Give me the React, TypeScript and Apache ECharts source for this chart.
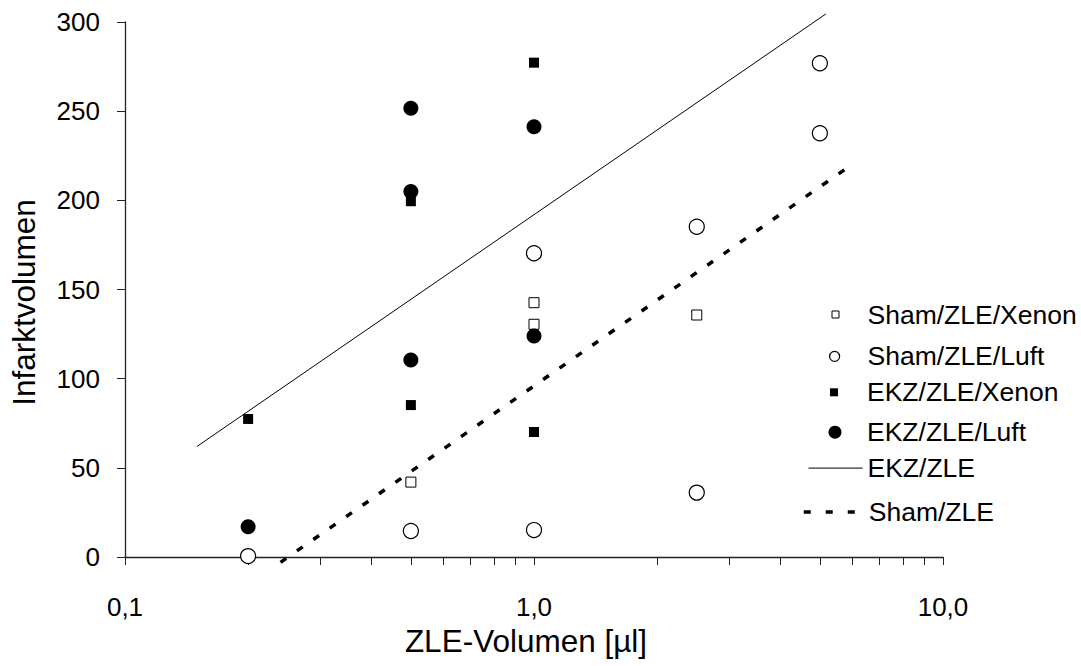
import React, { useEffect, useRef } from "react";
import * as echarts from "echarts";

// ---------- data ----------
const xTickValues = [0.1, 0.2, 0.3, 0.4, 0.5, 0.6, 0.7, 0.8, 0.9, 1, 2, 3, 4, 5, 6, 7, 8, 9, 10];
const xLabelValues = [0.1, 1, 10];

const shamXenon: number[][] = [[0.5, 42], [1.0, 142.6], [1.0, 130.5], [2.5, 135.7]];
const shamLuft: number[][] = [[0.2, 0.5], [0.5, 14.6], [1.0, 15.1], [1.0, 170.3], [2.5, 185.2], [2.5, 36.1], [5.0, 276.9], [5.0, 237.6]];
const ekzXenon: number[][] = [[0.2, 77.4], [0.5, 85.2], [0.5, 199.5], [1.0, 277.2], [1.0, 70.1]];
const ekzLuft: number[][] = [[0.2, 17], [0.5, 251.6], [0.5, 204.9], [0.5, 110.5], [1.0, 241.3], [1.0, 123.9]];
const ekzTrend: number[][] = [[0.15, 62], [5.17, 304.5]];
const shamTrend: number[][] = [[0.24, -3], [6.0, 220.2]];

const seriesNames = ["Sham/ZLE/Xenon", "Sham/ZLE/Luft", "EKZ/ZLE/Xenon", "EKZ/ZLE/Luft", "EKZ/ZLE", "Sham/ZLE"];
const xTitle = "ZLE-Volumen [µl]";
const yTitle = "Infarktvolumen";

// ---------- layout / style ----------
const FONT = "'Liberation Sans', Arial, Helvetica, sans-serif";
const AXIS_COLOR = "#222";
const TICK_FS = 26;
const LEG_FS = 26.5;
const TITLE_FS = 31.5;

function buildLegends() {
  const textX = 867;
  const row0 = 317.5;
  const step = 38.9;
  const LH = 30;
  const specs = [
    { w: 7, h: 7, cx: 835, d: 3, extra: { itemStyle: { borderWidth: 1, borderColor: "#000", color: "#fff", opacity: 1 } } },
    { w: 10, h: 10, cx: 834, d: 0, extra: { itemStyle: { borderWidth: 1.2, borderColor: "#000", color: "#fff", opacity: 1 } } },
    { w: 8, h: 8, cx: 834, d: 3, extra: { itemStyle: { borderWidth: 0, color: "#000", opacity: 1 } } },
    { w: 13, h: 13, cx: 835, d: 2, extra: { itemStyle: { borderWidth: 0, color: "#000", opacity: 1 } } },
    { w: 54, h: 12, cx: 835, d: 5, extra: { itemStyle: { opacity: 0 }, lineStyle: { width: 1, color: "#000" } } },
    { w: 51, h: 12, cx: 827.5, d: 0, extra: { itemStyle: { opacity: 0 }, lineStyle: { type: [7, 15], width: 3.5, color: "#000" } } },
  ];
  return seriesNames.map((name, i) => {
    const s = specs[i];
    const T = row0 + i * step;
    const left = s.cx - s.w / 2;
    const pl = textX - (left + s.w + 5);
    const top = T - LH / 2 - 2 * s.d;
    return {
      orient: "vertical",
      left,
      top,
      padding: 0,
      itemWidth: s.w,
      itemHeight: s.h,
      selectedMode: false,
      textStyle: {
        fontFamily: FONT,
        fontSize: LEG_FS,
        color: "#000",
        lineHeight: LH,
        padding: [2 * s.d, 0, 0, pl],
      },
      data: [{ name, ...s.extra }],
    };
  });
}

function buildOption() {
  const labelFmt = (v: number) => (Math.round(v * 10) / 10).toFixed(1).replace(".", ",");
  return {
    animation: false,
    backgroundColor: "#fff",
    grid: { left: 125, right: 138, top: 22, bottom: 109, containLabel: false, outerBoundsMode: "none" },
    xAxis: {
      type: "log",
      logBase: 10,
      min: 0.1,
      max: 10,
      axisLine: { show: true, onZero: false, lineStyle: { color: AXIS_COLOR, width: 1.3 } },
      axisTick: { show: true, inside: false, length: 8, customValues: xTickValues, lineStyle: { color: AXIS_COLOR, width: 1 } },
      minorTick: { show: false },
      axisLabel: {
        customValues: xLabelValues,
        formatter: labelFmt,
        margin: 37,
        fontSize: TICK_FS,
        fontFamily: FONT,
        color: "#000",
      },
      splitLine: { show: false },
    },
    yAxis: {
      type: "value",
      min: 0,
      max: 300,
      interval: 50,
      axisLine: { show: true, onZero: false, lineStyle: { color: AXIS_COLOR, width: 1.3 } },
      axisTick: { show: true, inside: false, length: 8, lineStyle: { color: AXIS_COLOR, width: 1 } },
      axisLabel: { margin: 25, fontSize: TICK_FS, fontFamily: FONT, color: "#000" },
      splitLine: { show: false },
    },
    legend: buildLegends(),
    graphic: [
      {
        type: "text",
        x: 526,
        y: 641,
        style: { text: xTitle, fontSize: TITLE_FS, fontFamily: FONT, fill: "#000", align: "center", verticalAlign: "middle" },
      },
      {
        type: "text",
        x: 24,
        y: 302.5,
        rotation: Math.PI / 2,
        style: { text: yTitle, fontSize: TITLE_FS, fontFamily: FONT, fill: "#000", align: "center", verticalAlign: "middle" },
      },
    ],
    series: [
      {
        name: seriesNames[0],
        type: "scatter",
        data: shamXenon,
        symbol: "rect",
        symbolSize: 10,
        itemStyle: { color: "#fff", borderColor: "#000", borderWidth: 1, opacity: 1 },
        z: 3,
      },
      {
        name: seriesNames[1],
        type: "scatter",
        data: shamLuft,
        symbol: "circle",
        symbolSize: 15,
        itemStyle: { color: "#fff", borderColor: "#000", borderWidth: 1.2, opacity: 1 },
        z: 3,
      },
      {
        name: seriesNames[2],
        type: "scatter",
        data: ekzXenon,
        symbol: "rect",
        symbolSize: 10,
        itemStyle: { color: "#000", opacity: 1 },
        z: 3,
      },
      {
        name: seriesNames[3],
        type: "scatter",
        data: ekzLuft,
        symbol: "circle",
        symbolSize: 15,
        itemStyle: { color: "#000", opacity: 1 },
        z: 3,
      },
      {
        name: seriesNames[4],
        type: "line",
        data: ekzTrend,
        symbol: "none",
        showSymbol: false,
        clip: false,
        lineStyle: { color: "#000", width: 1, type: "solid" },
        itemStyle: { color: "#000" },
        z: 4,
      },
      {
        name: seriesNames[5],
        type: "line",
        data: shamTrend,
        symbol: "none",
        showSymbol: false,
        clip: false,
        lineStyle: { color: "#000", width: 3.5, type: [7, 13], cap: "butt" },
        itemStyle: { color: "#000" },
        z: 4,
      },
    ],
  };
}

export default function App() {
  const ref = useRef<HTMLDivElement>(null);
  useEffect(() => {
    if (!ref.current) return;
    const chart = echarts.init(ref.current, undefined, { renderer: "svg" });
    chart.setOption(buildOption() as any);
    return () => chart.dispose();
  }, []);
  return (
    <div
      ref={ref}
      style={{ position: "fixed", left: 0, top: 0, width: 1081, height: 666, background: "#fff" }}
    />
  );
}
